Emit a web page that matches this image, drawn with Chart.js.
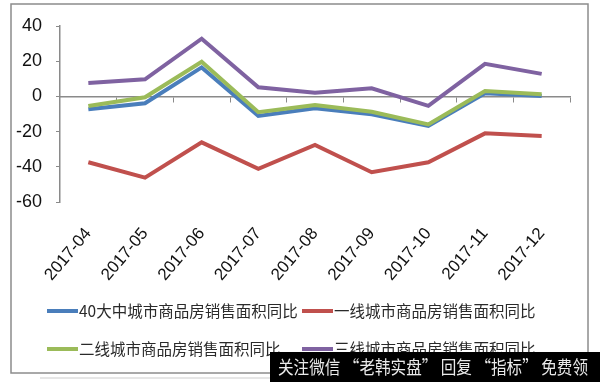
<!DOCTYPE html>
<html>
<head>
<meta charset="utf-8">
<script src="https://cdn.jsdelivr.net/npm/chart.js@4/dist/chart.umd.min.js"></script>
<style>
html,body{margin:0;padding:0;background:#fff;}
#wrap{position:relative;width:600px;height:382px;}
</style>
</head>
<body>
<div id="wrap"><canvas id="c" width="600" height="382"></canvas></div>
<script>
const categories = ['2017-04','2017-05','2017-06','2017-07','2017-08','2017-09','2017-10','2017-11','2017-12'];
const series40 = [-7.3, -3.9, 16.5, -11.1, -6.8, -10.2, -16.8, 1.8, 0.2];
const seriesTier1 = [-37.4, -46.2, -26.1, -41.2, -27.6, -43.1, -37.4, -21.0, -22.5];
const seriesTier2 = [-5.5, -0.5, 19.7, -9.0, -4.9, -8.7, -15.9, 3.1, 1.2];
const seriesTier3 = [7.6, 9.7, 32.8, 5.2, 2.1, 4.6, -5.4, 18.5, 12.8];
const seriesNames = ['40大中城市商品房销售面积同比','一线城市商品房销售面积同比','二线城市商品房销售面积同比','三线城市商品房销售面积同比'];
const yTicks = [-60, -40, -20, 0, 20, 40];
const watermarkText = '关注微信 “老韩实盘” 回复 “指标” 免费领';

const colors = ['#4a7ebb', '#c0504d', '#9bbb59', '#7f62a1'];
const axisGray = '#8a8a8a';

const framePlugin = {
  id: 'frame',
  beforeDraw(chart) {
    const ctx = chart.ctx;
    ctx.save();
    ctx.fillStyle = '#fff';
    ctx.fillRect(0, 0, chart.width, chart.height);
    ctx.strokeStyle = '#e6e6e6';
    ctx.lineWidth = 2;
    ctx.beginPath();
    ctx.moveTo(40, 378); ctx.lineTo(280, 378);
    ctx.stroke();
    ctx.strokeStyle = '#8c8c8c';
    ctx.lineWidth = 1.5;
    ctx.strokeRect(11, 4, 577, 369);
    ctx.restore();
  },
  afterDraw(chart) {
    const ctx = chart.ctx;
    ctx.save();
    // legend
    const pos = [[47, 311], [302, 311], [47, 349], [302, 349]];
    ctx.font = '15.5px "Noto Sans CJK SC", "Noto Sans", sans-serif';
    ctx.textBaseline = 'middle';
    ctx.textAlign = 'left';
    chart.data.datasets.forEach((ds, i) => {
      const [x, y] = pos[i];
      ctx.strokeStyle = ds.borderColor;
      ctx.lineWidth = 4;
      ctx.lineCap = 'butt';
      ctx.beginPath();
      ctx.moveTo(x, y); ctx.lineTo(x + 31, y);
      ctx.stroke();
      ctx.fillStyle = '#2a2a2a';
      ctx.fillText(ds.label, x + 32, y);
    });
    // watermark banner
    ctx.fillStyle = '#000';
    ctx.fillRect(270, 352, 330, 30);
    ctx.fillStyle = '#eaeaea';
    ctx.font = '18px "Noto Sans CJK SC", sans-serif';
    ctx.textBaseline = 'middle';
    ctx.fillText(watermarkText, 278, 367, 310);
    ctx.restore();
  }
};

const datasets = [series40, seriesTier1, seriesTier2, seriesTier3].map((d, i) => ({
  label: seriesNames[i],
  data: d,
  borderColor: colors[i],
  backgroundColor: colors[i],
  borderWidth: 4,
  pointRadius: 0,
  tension: 0,
  fill: false,
  order: 3 - i
}));

new Chart(document.getElementById('c'), {
  type: 'line',
  data: { labels: categories, datasets },
  options: {
    responsive: false,
    animation: false,
    events: [],
    layout: { padding: { left: 0, right: 30, top: 26, bottom: 0 } },
    plugins: { legend: { display: false }, tooltip: { enabled: false } },
    scales: {
      x: {
        type: 'category',
        position: 'bottom',
        offset: true,
        grid: { display: false },
        border: { display: false },
        ticks: {
          autoSkip: false,
          minRotation: 50,
          maxRotation: 50,
          padding: 14,
          color: '#111',
          font: { family: '"Liberation Sans Narrow", "Arial Narrow", "Liberation Sans", sans-serif', size: 17 }
        },
        afterFit(s) { s.height = 180; }
      },
      x0: {
        type: 'category',
        axis: 'x',
        labels: categories,
        position: { y: 0 },
        offset: true,
        grid: { offset: true, drawOnChartArea: false, drawTicks: true, tickLength: 5, color: axisGray, lineWidth: 1 },
        border: { display: true, color: axisGray, width: 1.5 },
        ticks: { display: false }
      },
      y: {
        type: 'linear',
        min: -60,
        max: 40,
        afterBuildTicks(s) { s.ticks = yTicks.map(v => ({ value: v })); },
        grid: { drawOnChartArea: false, drawTicks: true, tickLength: 4, color: axisGray },
        border: { display: true, color: axisGray, width: 1.5 },
        ticks: {
          padding: 14,
          color: '#111',
          font: { family: '"Liberation Sans Narrow", "Arial Narrow", "Liberation Sans", sans-serif', size: 18 }
        },
        afterFit(s) { s.width = 60; }
      }
    }
  },
  plugins: [framePlugin]
});
</script>
</body>
</html>
